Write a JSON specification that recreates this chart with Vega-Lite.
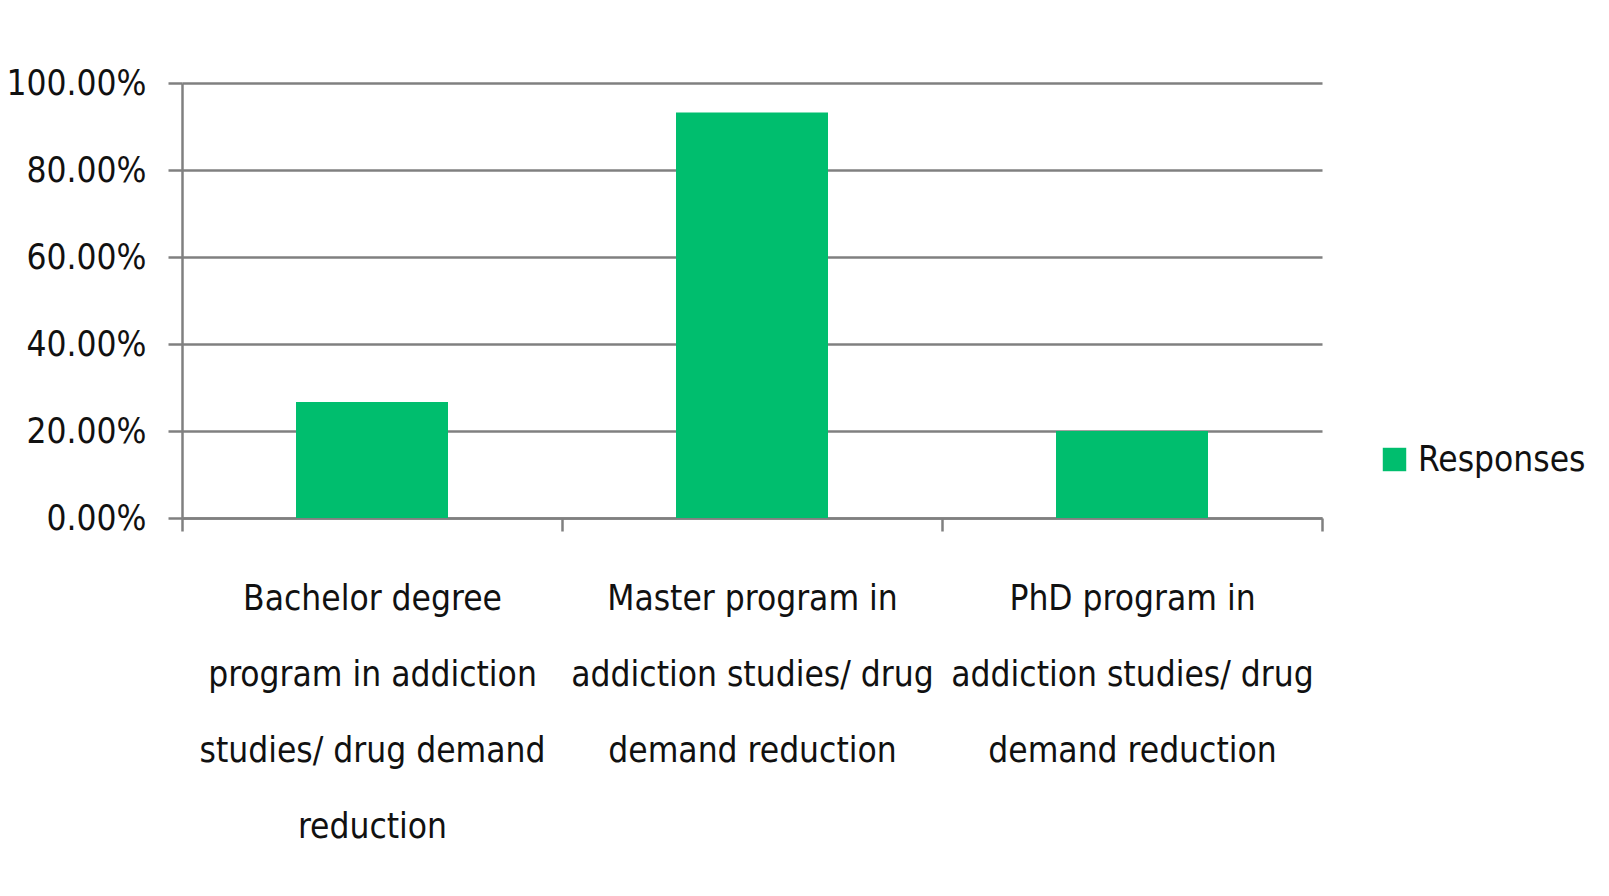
{
  "$schema": "https://vega.github.io/schema/vega-lite/v6.json",
  "width": 1140,
  "height": 435,
  "autosize": {"type": "none"},
  "padding": {"left": 182, "top": 83, "right": 287, "bottom": 378},
  "background": "white",
  "data": {
    "values": [
      {"program": "Bachelor degree program in addiction studies/ drug demand reduction", "series": "Responses", "share": 0.2667},
      {"program": "Master program in addiction studies/ drug demand reduction", "series": "Responses", "share": 0.932},
      {"program": "PhD program in addiction studies/ drug demand reduction", "series": "Responses", "share": 0.2}
    ]
  },
  "mark": {"type": "bar", "color": "#00BE6E", "width": {"band": 0.4}},
  "encoding": {
    "x": {
      "field": "program",
      "type": "nominal",
      "sort": null,
      "title": null,
      "scale": {"paddingInner": 0, "paddingOuter": 0},
      "axis": {
        "labelAngle": 0,
        "labelFont": "DejaVu Sans Condensed, Liberation Sans Narrow, Roboto, sans-serif",
        "labelFontSize": 35,
        "labelColor": "#111111",
        "labelLineHeight": 76,
        "labelBaseline": "top",
        "labelPadding": 50,
        "labelLimit": 1000,
        "tickBand": "extent",
        "tickSize": 13,
        "tickWidth": 2.5,
        "tickColor": "#808080",
        "domainColor": "#808080",
        "domainWidth": 2.5,
        "labelExpr": "datum.value == 'Bachelor degree program in addiction studies/ drug demand reduction' ? ['Bachelor degree', 'program in addiction', 'studies/ drug demand', 'reduction'] : datum.value == 'Master program in addiction studies/ drug demand reduction' ? ['Master program in', 'addiction studies/ drug', 'demand reduction'] : datum.value == 'PhD program in addiction studies/ drug demand reduction' ? ['PhD program in', 'addiction studies/ drug', 'demand reduction'] : ''"
      }
    },
    "y": {
      "field": "share",
      "type": "quantitative",
      "title": null,
      "scale": {"domain": [0, 1]},
      "axis": {
        "values": [0, 0.2, 0.4, 0.6, 0.8, 1],
        "format": ".2%",
        "labelFont": "DejaVu Sans Condensed, Liberation Sans Narrow, Roboto, sans-serif",
        "labelFontSize": 35,
        "labelColor": "#111111",
        "labelPadding": 22,
        "tickSize": 14,
        "tickWidth": 2.5,
        "tickColor": "#808080",
        "domainColor": "#808080",
        "domainWidth": 2.5,
        "grid": true,
        "gridColor": "#808080",
        "gridWidth": 2.5
      }
    },
    "fill": {
      "field": "series",
      "type": "nominal",
      "title": null,
      "scale": {"range": ["#00BE6E"]},
      "legend": {
        "orient": "none",
        "legendX": 1195,
        "legendY": 359,
        "symbolType": "square",
        "symbolSize": 550,
        "symbolStrokeWidth": 0,
        "labelFont": "DejaVu Sans Condensed, Liberation Sans Narrow, Roboto, sans-serif",
        "labelFontSize": 35,
        "labelColor": "#111111",
        "labelOffset": 6,
        "labelLimit": 400
      }
    }
  },
  "config": {
    "view": {"stroke": null}
  }
}
